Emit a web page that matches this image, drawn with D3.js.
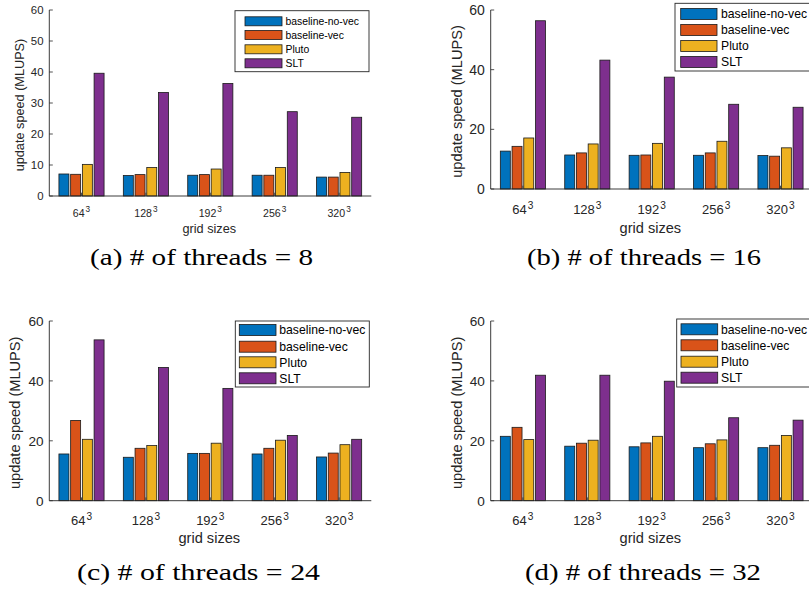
<!DOCTYPE html>
<html>
<head>
<meta charset="utf-8">
<script src="https://cdn.jsdelivr.net/npm/d3@7"></script>
<style>
  body { margin: 0; background: #fff; }
  svg { display: block; }
</style>
</head>
<body>
<svg id="chart" width="809" height="593"></svg>
<script>
// ---------- DATA ----------
const categories = ["64", "128", "192", "256", "320"];
const seriesNames = ["baseline-no-vec", "baseline-vec", "Pluto", "SLT"];
const captions = ["(a) # of threads = 8", "(b) # of threads = 16", "(c) # of threads = 24", "(d) # of threads = 32"];
const yTicksA = [0, 10, 20, 30, 40, 50, 60];
const yTicksBCD = [0, 20, 40, 60];

// values[series][category]
const threads8 = [
  [7.1, 6.6, 6.7, 6.7, 6.1],
  [7.0, 6.9, 6.9, 6.7, 6.1],
  [10.2, 9.2, 8.7, 9.2, 7.6],
  [39.6, 33.4, 36.3, 27.2, 25.4]
];
const threads16 = [
  [12.7, 11.4, 11.3, 11.3, 11.2],
  [14.3, 12.1, 11.4, 12.1, 11.0],
  [17.1, 15.1, 15.3, 16.0, 13.8],
  [56.4, 43.2, 37.5, 28.4, 27.4]
];
const threads24 = [
  [15.6, 14.5, 15.8, 15.6, 14.6],
  [26.8, 17.5, 15.8, 17.5, 15.9],
  [20.5, 18.4, 19.2, 20.2, 18.7],
  [53.7, 44.5, 37.5, 21.8, 20.5]
];
const threads32 = [
  [21.5, 18.2, 18.0, 17.7, 17.7],
  [24.5, 19.2, 19.3, 19.0, 18.5],
  [20.4, 20.2, 21.5, 20.3, 21.8],
  [41.9, 41.9, 39.9, 27.7, 26.9]
];

const colors = ["#0072BD", "#D95319", "#EDB120", "#7E2F8E"];

// ---------- LAYOUT ----------
const panels = [
  { data: threads8, ticks: yTicksA, x0: 49.3, x1: 371.3, yTop: 10, yZero: 196,
    ytFont: 11.4, xtFont: 10.6, labFont: 12.7, xtBase: 216.7, xlBase: 232.7, ylX: 24,
    leg: { x: 235, y: 10.7, w: 134, h: 61, s0: 245, s1: 282, tx: 285.5, rows: [21.3, 35, 49.3, 63.3], sh: 9, font: 10.4 },
    cap: { cx: 201.5, base: 265, len: 223 } },
  { data: threads16, ticks: yTicksBCD, x0: 490.7, x1: 812.7, yTop: 10, yZero: 189,
    ytFont: 14, xtFont: 13, labFont: 14.6, xtBase: 214, xlBase: 233, ylX: 461.7,
    leg: { x: 675, y: 3.3, w: 150, h: 67.7, s0: 680.7, s1: 717, tx: 721, rows: [14, 30, 46, 62], sh: 11, font: 12.2 },
    cap: { cx: 644, base: 265, len: 234 } },
  { data: threads24, ticks: yTicksBCD, x0: 49.3, x1: 371.3, yTop: 321, yZero: 500.7,
    ytFont: 13.6, xtFont: 13, labFont: 14.6, xtBase: 525, xlBase: 543, ylX: 20,
    leg: { x: 235.3, y: 321, w: 134, h: 66, s0: 239.3, s1: 276, tx: 279.3, rows: [330, 346.7, 362.3, 378.3], sh: 11, font: 12.2 },
    cap: { cx: 198.5, base: 580, len: 243 } },
  { data: threads32, ticks: yTicksBCD, x0: 490.7, x1: 812.7, yTop: 321, yZero: 500.7,
    ytFont: 13.6, xtFont: 13, labFont: 14.6, xtBase: 525, xlBase: 543, ylX: 461.7,
    leg: { x: 676.7, y: 319, w: 150, h: 68, s0: 681, s1: 717.7, tx: 721, rows: [329.3, 345.3, 361.7, 377.7], sh: 11, font: 12.2 },
    cap: { cx: 643, base: 580, len: 236 } }
];

const svg = d3.select("#chart");
const sans = "'Liberation Sans', Arial, Helvetica, sans-serif";
const serif = "'Liberation Serif', 'Times New Roman', serif";
const axisColor = "#262626";
const pitch = 0.182, bw = 0.155;

panels.forEach((p, pi) => {
  const g = svg.append("g");
  const x = d3.scaleLinear().domain([0.5, 5.5]).range([p.x0, p.x1]);
  const y = d3.scaleLinear().domain([0, 60]).range([p.yZero, p.yTop]);

  // x ticks (inward, behind bars)
  g.selectAll(".xt").data(categories).enter().append("line")
    .attr("x1", (d, i) => x(i + 1)).attr("x2", (d, i) => x(i + 1))
    .attr("y1", p.yZero).attr("y2", p.yZero - 3.3)
    .attr("stroke", axisColor).attr("stroke-width", 0.8);

  // bars
  p.data.forEach((vals, si) => {
    g.selectAll(".bar" + si).data(vals).enter().append("rect")
      .attr("x", (d, ci) => x(ci + 1 + (si - 1.5) * pitch - bw / 2))
      .attr("width", x(1 + bw) - x(1))
      .attr("y", d => y(d))
      .attr("height", d => y(0) - y(d))
      .attr("fill", colors[si])
      .attr("stroke", "#1a1a1a")
      .attr("stroke-width", 0.8);
  });

  // y axis
  g.append("line").attr("x1", p.x0).attr("x2", p.x0).attr("y1", p.yTop).attr("y2", p.yZero)
    .attr("stroke", axisColor).attr("stroke-width", 0.9);
  g.append("line").attr("x1", p.x0).attr("x2", p.x1).attr("y1", p.yZero).attr("y2", p.yZero)
    .attr("stroke", axisColor).attr("stroke-width", 0.9);
  g.selectAll(".yt").data(p.ticks).enter().append("line")
    .attr("x1", p.x0).attr("x2", p.x0 + 3.5)
    .attr("y1", d => y(d)).attr("y2", d => y(d))
    .attr("stroke", axisColor).attr("stroke-width", 0.8);
  g.selectAll(".ytl").data(p.ticks).enter().append("text")
    .attr("x", p.x0 - 5.8).attr("y", d => y(d))
    .attr("dy", "0.36em")
    .attr("text-anchor", "end")
    .attr("font-family", sans).attr("font-size", p.ytFont)
    .attr("fill", axisColor)
    .text(d => d);

  // x tick labels with superscript
  const xl = g.selectAll(".xtl").data(categories).enter().append("text")
    .attr("x", (d, i) => x(i + 1)).attr("y", p.xtBase)
    .attr("text-anchor", "middle")
    .attr("font-family", sans).attr("font-size", p.xtFont)
    .attr("fill", axisColor);
  xl.append("tspan").text(d => d);
  xl.append("tspan").attr("dy", -p.xtFont * 0.42).attr("dx", 1).attr("font-size", p.xtFont * 0.78).text("3");

  // axis labels
  g.append("text")
    .attr("x", (p.x0 + Math.min(p.x1, 809 + 3)) / 2 - 1).attr("y", p.xlBase)
    .attr("text-anchor", "middle")
    .attr("font-family", sans).attr("font-size", p.labFont)
    .attr("fill", axisColor)
    .text("grid sizes");
  g.append("text")
    .attr("transform", `translate(${p.ylX},${(p.yTop + p.yZero) / 2 + 2}) rotate(-90)`)
    .attr("text-anchor", "middle")
    .attr("font-family", sans).attr("font-size", p.labFont)
    .attr("fill", axisColor)
    .text("update speed (MLUPS)");

  // legend
  const L = p.leg;
  g.append("rect").attr("x", L.x).attr("y", L.y).attr("width", L.w).attr("height", L.h)
    .attr("fill", "#fff").attr("stroke", axisColor).attr("stroke-width", 0.9);
  seriesNames.forEach((name, si) => {
    g.append("rect")
      .attr("x", L.s0).attr("y", L.rows[si] - L.sh / 2)
      .attr("width", L.s1 - L.s0).attr("height", L.sh)
      .attr("fill", colors[si]).attr("stroke", "#1a1a1a").attr("stroke-width", 0.8);
    g.append("text")
      .attr("x", L.tx).attr("y", L.rows[si]).attr("dy", "0.36em")
      .attr("font-family", sans).attr("font-size", L.font)
      .attr("fill", "#000")
      .text(name);
  });

  // caption
  g.append("text")
    .attr("x", p.cap.cx).attr("y", p.cap.base)
    .attr("text-anchor", "middle")
    .attr("font-family", serif).attr("font-size", 23)
    .attr("textLength", p.cap.len).attr("lengthAdjust", "spacingAndGlyphs")
    .attr("fill", "#000")
    .text(captions[pi]);
});
</script>
</body>
</html>
